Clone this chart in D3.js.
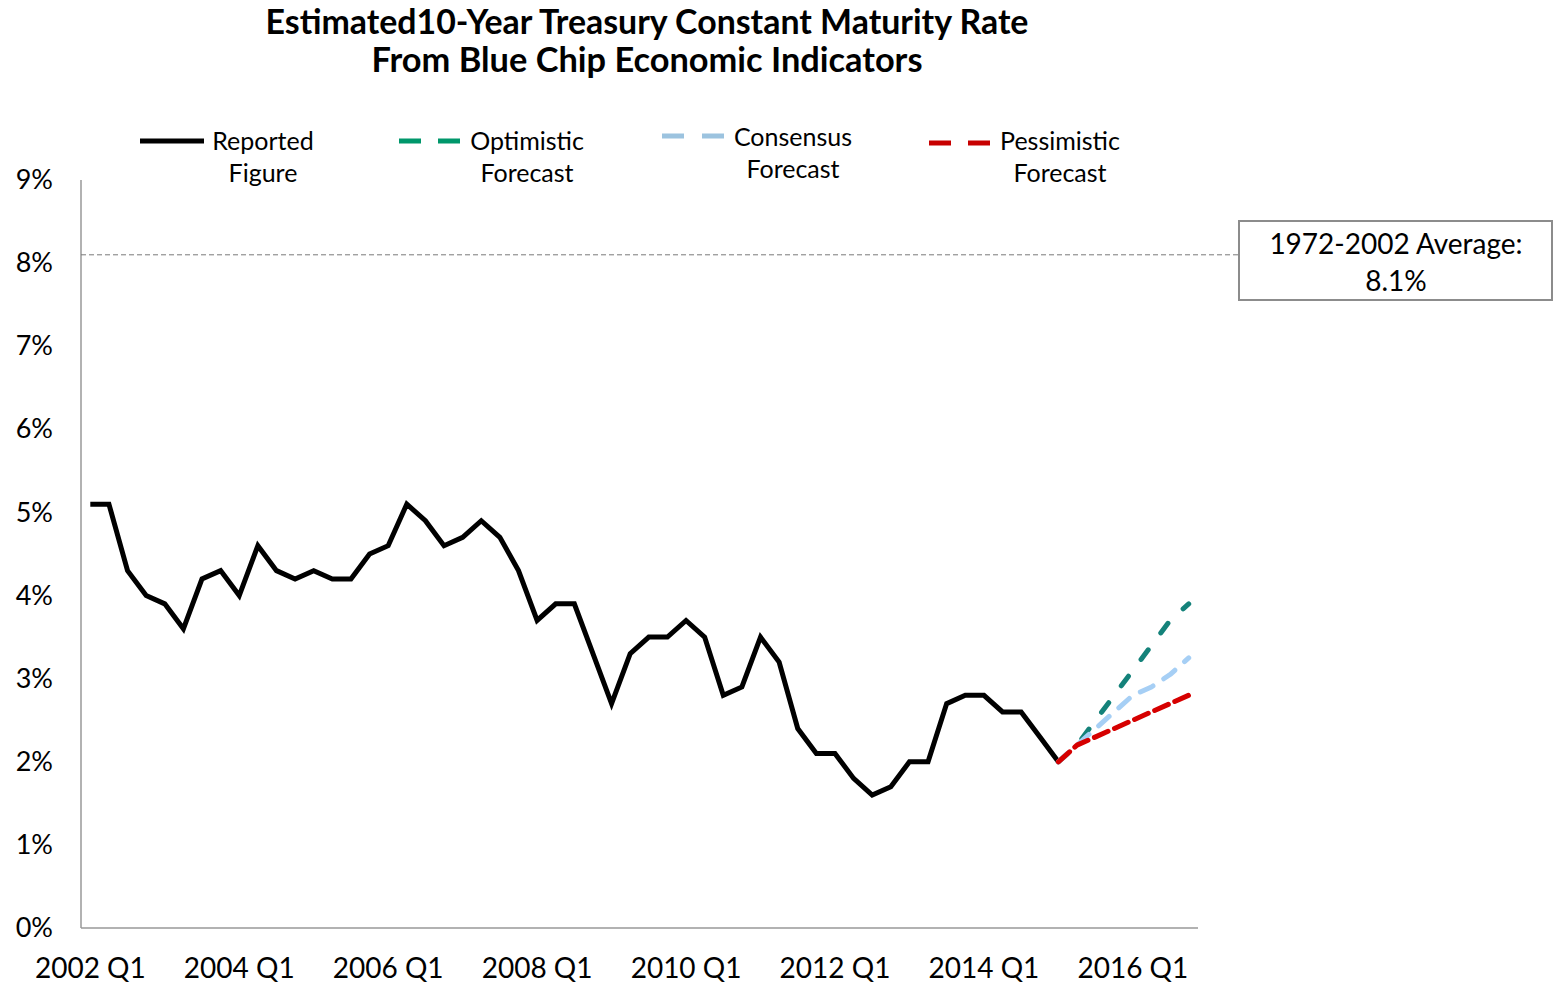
<!DOCTYPE html>
<html><head><meta charset="utf-8">
<script src="https://cdn.jsdelivr.net/npm/d3@7"></script>
<style>
html,body{margin:0;padding:0;background:#fff;}
text{font-family:'Lato','Open Sans',sans-serif;fill:#000;}
</style></head>
<body><svg id="chart" width="1555" height="985"></svg>
<script>
// ---------- data ----------
const years = [2002,2003,2004,2005,2006,2007,2008,2009,2010,2011,2012,2013,2014,2015,2016];
const quarterNames = ["Q1","Q2","Q3","Q4"];
const quarters = [];
years.forEach(yr => quarterNames.forEach(q => quarters.push(yr + " " + q)));

const tickLabels = ["2002 Q1","2004 Q1","2006 Q1","2008 Q1","2010 Q1","2012 Q1","2014 Q1","2016 Q1"];
const yTicks = [0,1,2,3,4,5,6,7,8,9];

// Reported figure, 2002 Q1 .. 2015 Q1
const reported = [5.1,5.1,4.3,4.0, 3.9,3.6,4.2,4.3, 4.0,4.6,4.3,4.2, 4.3,4.2,4.2,4.5,
                  4.6,5.1,4.9,4.6, 4.7,4.9,4.7,4.3, 3.7,3.9,3.9,3.3, 2.7,3.3,3.5,3.5,
                  3.7,3.5,2.8,2.9, 3.5,3.2,2.4,2.1, 2.1,1.8,1.6,1.7, 2.0,2.0,2.7,2.8,
                  2.8,2.6,2.6,2.3, 2.0];
// Forecasts, 2015 Q1 .. 2016 Q4
const forecastStart = "2015 Q1";
const optimistic  = [2.0,2.2,2.5,2.8,3.1,3.4,3.7,3.9];
const consensus   = [2.0,2.2,2.4,2.6,2.8,2.9,3.05,3.25];
const pessimistic = [2.0,2.2,2.3,2.4,2.5,2.6,2.7,2.8];
const historicalAverage = 8.1;
const averageLabel = ["1972-2002 Average:", "8.1%"];

const titleLines = ["Estimated10-Year Treasury Constant Maturity Rate", "From Blue Chip Economic Indicators"];
const legendLabels = [["Reported","Figure"],["Optimistic","Forecast"],["Consensus","Forecast"],["Pessimistic","Forecast"]];

// ---------- layout ----------
const svg = d3.select("#chart");
const plotLeft = 81, plotRight = 1198, plotTop = 180, plotBottom = 928;

const x = d3.scaleBand().domain(quarters).range([plotLeft, plotRight]);
const xc = q => x(q) + x.bandwidth() / 2;
const y = d3.scaleLinear().domain([0, 9]).range([plotBottom, plotTop]);

function fit(sel, target) {
  const n = sel.node();
  const fs = parseFloat(sel.attr("font-size"));
  const w = n.getComputedTextLength();
  sel.attr("font-size", (fs * target / w).toFixed(2));
}

// title
const titleWidths = [763, 551];
titleLines.forEach((t, i) => {
  const s = svg.append("text").attr("x", 647).attr("y", 22 + i * 38).attr("dy", "0.36em")
    .attr("text-anchor", "middle").attr("font-weight", "bold").attr("font-size", 28).text(t);
  fit(s, titleWidths[i]);
});

// axes
const yAxis = d3.axisLeft(y).tickValues(yTicks).tickSize(0).tickPadding(28).tickFormat(d => d + "%");
const gy = svg.append("g").attr("transform", `translate(${plotLeft},0)`).call(yAxis);
gy.select(".domain").attr("stroke", "#999").attr("stroke-width", 1.5).attr("d", `M0,${plotTop}V${plotBottom}`);
gy.selectAll("text").attr("font-size", 27).attr("font-family", "Lato").attr("fill", "#000");

const xAxis = d3.axisBottom(x).tickValues(tickLabels).tickSize(0).tickPadding(30);
const gx = svg.append("g").attr("transform", `translate(0,${plotBottom})`).call(xAxis);
gx.select(".domain").attr("stroke", "#999").attr("stroke-width", 1.5).attr("d", `M${plotLeft},0H${plotRight}`);
gx.selectAll("text").attr("font-size", 28).attr("font-family", "Lato").attr("fill", "#000");

// average line and box
svg.append("line").attr("x1", plotLeft).attr("x2", 1239)
  .attr("y1", y(historicalAverage)).attr("y2", y(historicalAverage))
  .attr("stroke", "#7a7a7a").attr("stroke-width", 1).attr("stroke-dasharray", "5,3");
svg.append("rect").attr("x", 1239).attr("y", 221).attr("width", 313).attr("height", 79)
  .attr("fill", "#fff").attr("stroke", "#8c8c8c").attr("stroke-width", 2);
averageLabel.forEach((t, i) => {
  svg.append("text").attr("x", 1396).attr("y", 244 + i * 37).attr("dy", "0.36em")
    .attr("text-anchor", "middle").attr("font-size", 28).text(t);
});

// lines
const line = d3.line().x(d => xc(d.q)).y(d => y(d.v));
const repData = reported.map((v, i) => ({q: quarters[i], v}));
const fIdx = quarters.indexOf(forecastStart);
const toData = arr => arr.map((v, i) => ({q: quarters[fIdx + i], v}));

svg.append("path").datum(repData).attr("d", line).attr("fill", "none")
  .attr("stroke", "#000").attr("stroke-width", 5).attr("stroke-linejoin", "miter");

const forecasts = [
  {data: optimistic,  color: "#14827a", dash: "12,21"},
  {data: consensus,   color: "#a6cff5", dash: "14,13"},
  {data: pessimistic, color: "#d60000", dash: "15,7"}
];
forecasts.forEach(f => {
  svg.append("path").datum(toData(f.data)).attr("d", line).attr("fill", "none")
    .attr("stroke", f.color).attr("stroke-width", 5).attr("stroke-linecap", "round")
    .attr("stroke-linejoin", "round").attr("stroke-dasharray", f.dash);
});

// legend
const legendItems = [
  {sym: [140, 204], sy: 141, color: "#000", dash: null, tx: 263, ty: 141},
  {sym: [399, 461], sy: 141, color: "#00976b", dash: "22,17", tx: 527, ty: 141},
  {sym: [662, 724], sy: 136, color: "#9cc3df", dash: "22,18", tx: 793, ty: 137},
  {sym: [929, 991], sy: 143, color: "#c80000", dash: "22,17", tx: 1060, ty: 141}
];
legendItems.forEach((it, i) => {
  svg.append("line").attr("x1", it.sym[0]).attr("x2", it.sym[1]).attr("y1", it.sy).attr("y2", it.sy)
    .attr("stroke", it.color).attr("stroke-width", 5).attr("stroke-dasharray", it.dash);
  legendLabels[i].forEach((t, j) => {
    svg.append("text").attr("x", it.tx).attr("y", it.ty + j * 32).attr("dy", "0.36em")
      .attr("text-anchor", "middle").attr("font-size", 25).text(t);
  });
});
</script></body></html>
